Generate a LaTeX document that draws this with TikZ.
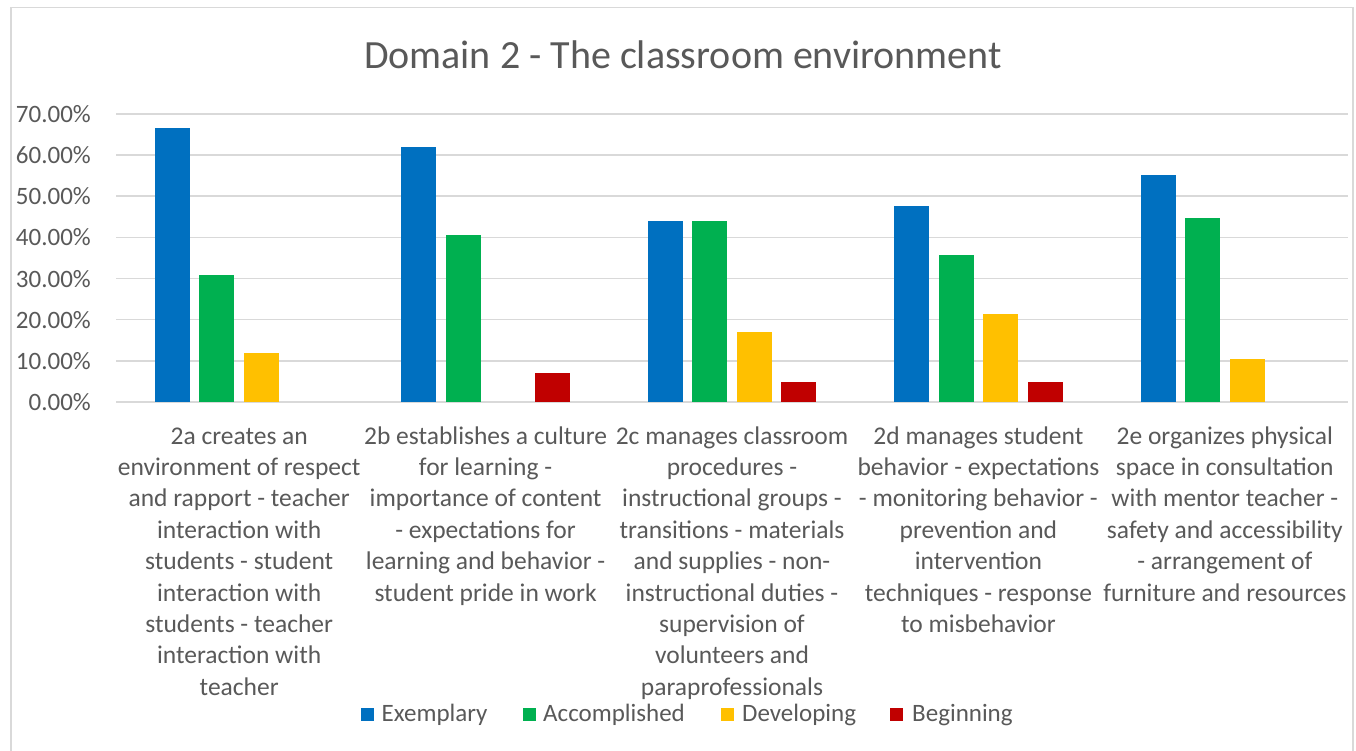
\documentclass[tikz,border=0pt]{standalone}
\usepackage{fontspec}
\setmainfont{Carlito}
\definecolor{txt}{HTML}{595959}
\definecolor{gridc}{HTML}{D9D9D9}
\definecolor{cEx}{HTML}{0070C0}
\definecolor{cAc}{HTML}{00B050}
\definecolor{cDe}{HTML}{FFC000}
\definecolor{cBe}{HTML}{C00000}
\begin{document}
\begin{tikzpicture}[x=1pt,y=-1pt,
  ticklbl/.style={anchor=base east, inner sep=0, text=txt, font=\fontsize{25}{30}\selectfont},
  catlbl/.style={anchor=north, align=center, inner sep=0, text=txt, font=\fontsize{25.5}{31.4}\selectfont},
  leglbl/.style={anchor=base west, inner sep=0, text=txt, font=\fontsize{25}{30}\selectfont},
  titlelbl/.style={anchor=base, inner sep=0, text=txt, font=\fontsize{40}{48}\selectfont},
  gridline/.style={draw=gridc, line width=1.5pt},
  legsq/.style={inner sep=0, minimum width=13pt, minimum height=13pt, anchor=north west}]
\useasboundingbox (0,0) rectangle (1356,751);
\fill[white] (0,0) rectangle (1356,751);
\draw[gridc, line width=1.5pt] (11,760) -- (11,7.5) -- (1353,7.5) -- (1353,760);
\node[titlelbl] (title) at (683,68.3) {Domain 2 - The classroom environment};
\foreach \k/\l in {0/0.00,1/10.00,2/20.00,3/30.00,4/40.00,5/50.00,6/60.00,7/70.00}{
  \draw[gridline] (116,{402-41.15*\k}) -- (1348,{402-41.15*\k});
  \node[ticklbl] (tick\k) at (91,{402-41.15*\k+8.5}) {\l\%};
}
% bars: group / series offset index / colour / value (zero values omitted)
\foreach \g/\s/\c/\v in {
  0/0/cEx/66.67, 0/1/cAc/30.95, 0/2/cDe/11.90,
  1/0/cEx/61.90, 1/1/cAc/40.48, 1/3/cBe/7.14,
  2/0/cEx/43.90, 2/1/cAc/43.90, 2/2/cDe/17.07, 2/3/cBe/4.88,
  3/0/cEx/47.62, 3/1/cAc/35.71, 3/2/cDe/21.43, 3/3/cBe/4.76,
  4/0/cEx/55.26, 4/1/cAc/44.74, 4/2/cDe/10.53}{
  \pgfmathsetmacro{\bx}{239.2+246.4*\g-66.75+44.5*\s}
  \fill[\c] ({\bx-17.5},402) rectangle ({\bx+17.5},{402-4.115*\v});
}
\node[catlbl] (cat1) at (239.2,422) {\strut 2a creates an\\environment of respect\\and rapport - teacher\\interaction with\\students - student\\interaction with\\students - teacher\\interaction with\\teacher};
\node[catlbl] (cat2) at (485.6,422) {\strut 2b establishes a culture\\for learning -\\importance of content\\- expectations for\\learning and behavior -\\student pride in work};
\node[catlbl] (cat3) at (732,422) {\strut 2c manages classroom\\procedures -\\instructional groups -\\transitions - materials\\and supplies - non-\\instructional duties -\\supervision of\\volunteers and\\paraprofessionals};
\node[catlbl] (cat4) at (978.4,422) {\strut 2d manages student\\behavior - expectations\\- monitoring behavior -\\prevention and\\intervention\\techniques - response\\to misbehavior};
\node[catlbl] (cat5) at (1224.8,422) {\strut 2e organizes physical\\space in consultation\\with mentor teacher -\\safety and accessibility\\- arrangement of\\furniture and resources};
\node[legsq, fill=cEx] (sqEx) at (361,708) {};
\node[leglbl] (lgEx) at (381.5,721.5) {Exemplary};
\node[legsq, fill=cAc] (sqAc) at (522.7,708) {};
\node[leglbl] (lgAc) at (543,721.5) {Accomplished};
\node[legsq, fill=cDe] (sqDe) at (721,708) {};
\node[leglbl] (lgDe) at (742,721.5) {Developing};
\node[legsq, fill=cBe] (sqBe) at (890,708) {};
\node[leglbl] (lgBe) at (912,721.5) {Beginning};
\end{tikzpicture}
\end{document}
